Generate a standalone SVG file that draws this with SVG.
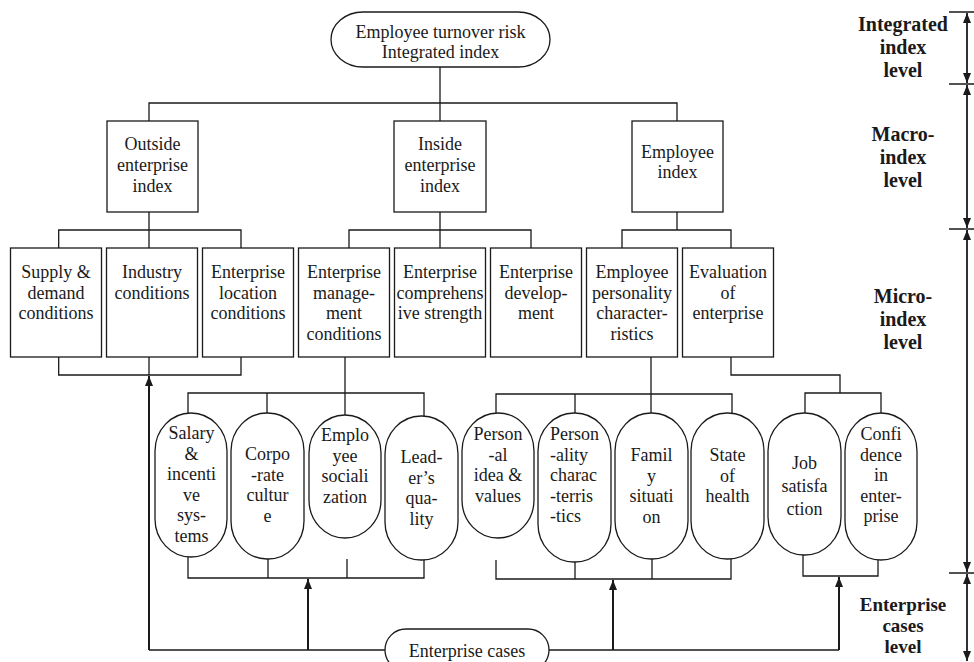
<svg xmlns="http://www.w3.org/2000/svg" width="974" height="662" viewBox="0 0 974 662">
<defs>
<marker id="ah" markerUnits="userSpaceOnUse" markerWidth="10" markerHeight="8" refX="10" refY="4" orient="auto-start-reverse"><path d="M0,0 L10,4 L0,8 z" fill="#1a1a1a"/></marker>
<style>
.b{fill:#fff;stroke:#1a1a1a;stroke-width:1.3}
.l{fill:none;stroke:#1a1a1a;stroke-width:1.3}
.a{fill:none;stroke:#1a1a1a;stroke-width:2;marker-end:url(#ah)}
.d{fill:none;stroke:#1a1a1a;stroke-width:1.8;marker-start:url(#ah);marker-end:url(#ah)}
text{font-family:"Liberation Serif","Times New Roman",serif;font-size:18px;fill:#1a1a1a;text-anchor:middle}
.lv{font-weight:bold;font-size:20px}
.lv2{font-weight:bold;font-size:19px}
</style>
</defs>
<rect width="974" height="662" fill="#fff"/>

<g id="connectors">
<path class="l" d="M440,67V121M149,121V103H677V121"/>
<path class="l" d="M149,212V230M58.7,248V230H241V248M149,230V248"/>
<path class="l" d="M440,212V230M349,248V230H531V248M440,230V248"/>
<path class="l" d="M677,212V230M622,248V230H731V248"/>
<path class="l" d="M58.7,357V375H241V357M149,357V375"/>
<path class="l" d="M345,357V393M188,413V393H424V416M267,393V413M345,393V415"/>
<path class="l" d="M651,357V394M496,413V394H732V413M575,394V413M651,394V413"/>
<path class="l" d="M731,357V375H840V393M805,413V393H881V413"/>
<path class="l" d="M188,557V578H424V560M268,559V578M347,559V578"/>
<path class="l" d="M496,560V579H731V559M575,562V579M652,559V579"/>
<path class="l" d="M803,555V576H878V560"/>
<path class="l" d="M149,650H385M549,650H839"/>
<path class="a" d="M149,650V376"/>
<path class="a" d="M308,650V579"/>
<path class="a" d="M613,650V580"/>
<path class="a" d="M839,650V577"/>
<path class="l" d="M949,12H974M949,84H974M949,229H974M949,573H974"/>
<path class="d" d="M967,13V83"/>
<path class="d" d="M967,85V228"/>
<path class="d" d="M967,230V572"/>
<path class="d" d="M967,574V661"/>
</g>

<g id="n-top"><rect class="b" x="331" y="12" width="219" height="55" rx="32" ry="27.5"/><text x="440.5" y="38">Employee turnover risk</text><text x="440.5" y="58">Integrated index</text></g>

<g id="n-outside"><rect class="b" x="107" y="121" width="91" height="91"/><text x="152.5" y="150">Outside</text><text x="152.5" y="171">enterprise</text><text x="152.5" y="192">index</text></g>
<g id="n-inside"><rect class="b" x="394" y="121" width="92" height="91"/><text x="440" y="150">Inside</text><text x="440" y="171">enterprise</text><text x="440" y="192">index</text></g>
<g id="n-employee"><rect class="b" x="632" y="121" width="91" height="91"/><text x="677.5" y="158">Employee</text><text x="677.5" y="178">index</text></g>

<g id="n-supply"><rect class="b" x="10.5" y="248" width="91" height="109"/><text x="56" y="278">Supply &amp;</text><text x="56" y="298.7">demand</text><text x="56" y="319.4">conditions</text></g>
<g id="n-industry"><rect class="b" x="106.5" y="248" width="91" height="109"/><text x="152" y="278">Industry</text><text x="152" y="298.7">conditions</text></g>
<g id="n-location"><rect class="b" x="202.5" y="248" width="91" height="109"/><text x="248" y="278">Enterprise</text><text x="248" y="298.7">location</text><text x="248" y="319.4">conditions</text></g>
<g id="n-management"><rect class="b" x="298.5" y="248" width="91" height="109"/><text x="344" y="278">Enterprise</text><text x="344" y="298.7">manage-</text><text x="344" y="319.4">ment</text><text x="344" y="340">conditions</text></g>
<g id="n-comprehensive"><rect class="b" x="394.5" y="248" width="91" height="109"/><text x="440" y="278">Enterprise</text><text x="440" y="298.7">comprehens</text><text x="440" y="319.4">ive strength</text></g>
<g id="n-development"><rect class="b" x="490.5" y="248" width="91" height="109"/><text x="536" y="278">Enterprise</text><text x="536" y="298.7">develop-</text><text x="536" y="319.4">ment</text></g>
<g id="n-personality"><rect class="b" x="586.5" y="248" width="91" height="109"/><text x="632" y="278">Employee</text><text x="632" y="298.7">personality</text><text x="632" y="319.4">character-</text><text x="632" y="340">ristics</text></g>
<g id="n-evaluation"><rect class="b" x="682.5" y="248" width="91" height="109"/><text x="728" y="278">Evaluation</text><text x="728" y="298.7">of</text><text x="728" y="319.4">enterprise</text></g>

<g id="p-salary"><rect class="b" x="155" y="413" width="72" height="144" rx="36" ry="38"/><text x="191.5" y="439">Salary</text><text x="191.5" y="459.5">&amp;</text><text x="191.5" y="480">incenti</text><text x="191.5" y="500.5">ve</text><text x="191.5" y="521">sys-</text><text x="191.5" y="541.5">tems</text></g>
<g id="p-culture"><rect class="b" x="231" y="413" width="73" height="146" rx="36" ry="38"/><text x="267.5" y="460">Corpo</text><text x="267.5" y="480.5">-rate</text><text x="267.5" y="501">cultur</text><text x="267.5" y="521.5">e</text></g>
<g id="p-socialization"><rect class="b" x="309" y="415" width="72" height="123" rx="36" ry="38"/><text x="345" y="441">Emplo</text><text x="345" y="461.5">yee</text><text x="345" y="482">sociali</text><text x="345" y="502.5">zation</text></g>
<g id="p-leader"><rect class="b" x="385" y="416" width="73" height="144" rx="36" ry="38"/><text x="421.5" y="463">Lead-</text><text x="421.5" y="483.5">er’s</text><text x="421.5" y="504">qua-</text><text x="421.5" y="524.5">lity</text></g>

<g id="p-idea"><rect class="b" x="462" y="413" width="72" height="125" rx="36" ry="38"/><text x="498" y="440">Person</text><text x="498" y="460.5">-al</text><text x="498" y="481">idea &amp;</text><text x="498" y="501.5">values</text></g>
<g id="p-character"><rect class="b" x="538" y="413" width="73" height="149" rx="36" ry="38"/><text x="550" y="440" style="text-anchor:start">Person</text><text x="550" y="460.5" style="text-anchor:start">-ality</text><text x="550" y="481" style="text-anchor:start">charac</text><text x="550" y="501.5" style="text-anchor:start">-terris</text><text x="550" y="522" style="text-anchor:start">-tics</text></g>
<g id="p-family"><rect class="b" x="615" y="413" width="73" height="146" rx="36" ry="38"/><text x="651.5" y="461">Famil</text><text x="651.5" y="481.5">y</text><text x="651.5" y="502">situati</text><text x="651.5" y="522.5">on</text></g>
<g id="p-health"><rect class="b" x="691" y="413" width="73" height="146" rx="36" ry="38"/><text x="727.5" y="461">State</text><text x="727.5" y="481.5">of</text><text x="727.5" y="502">health</text></g>
<g id="p-job"><rect class="b" x="768" y="413" width="73" height="142" rx="36" ry="38"/><text x="804.5" y="469">Job</text><text x="804.5" y="492">satisfa</text><text x="804.5" y="515">ction</text></g>
<g id="p-confidence"><rect class="b" x="845" y="413" width="72" height="147" rx="36" ry="38"/><text x="881" y="440">Confi</text><text x="881" y="460.5">dence</text><text x="881" y="481">in</text><text x="881" y="501.5">enter-</text><text x="881" y="522">prise</text></g>

<g id="n-cases"><rect class="b" x="385" y="629" width="164" height="42" rx="21" ry="21"/><text x="467" y="657">Enterprise cases</text></g>

<g id="levels">
<text class="lv" x="903" y="31">Integrated</text><text class="lv" x="903" y="54">index</text><text class="lv" x="903" y="77">level</text>
<text class="lv" x="903" y="141">Macro-</text><text class="lv" x="903" y="164">index</text><text class="lv" x="903" y="187">level</text>
<text class="lv" x="903" y="303">Micro-</text><text class="lv" x="903" y="326">index</text><text class="lv" x="903" y="349">level</text>
<text class="lv2" x="903" y="611">Enterprise</text><text class="lv2" x="903" y="632">cases</text><text class="lv2" x="903" y="653">level</text>
</g>
</svg>
